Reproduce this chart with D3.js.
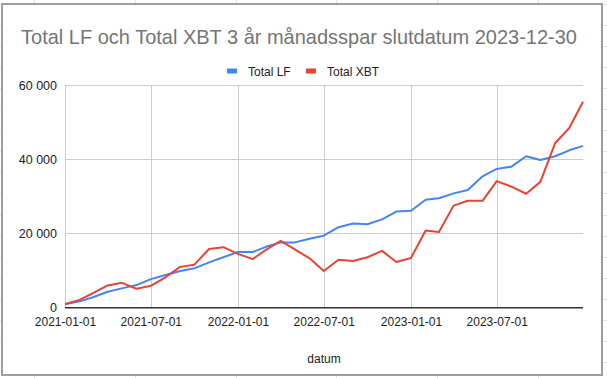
<!DOCTYPE html>
<html lang="sv">
<head>
	<meta charset="UTF-8">
	<title>Total LF och Total XBT</title>
	<script src="https://cdn.jsdelivr.net/npm/d3@7"></script>
	<style>
		body { margin: 0; background: #fff; }
		svg { display: block; font-family: "Liberation Sans", Arial, sans-serif; }
	</style>
</head>
<body>
<script type="text/javascript">
	// data, monthly values
	var dates = ['2021-01-01', '2021-02-01', '2021-03-01', '2021-04-01', '2021-05-01', '2021-06-01',
		'2021-07-01', '2021-08-01', '2021-09-01', '2021-10-01', '2021-11-01', '2021-12-01',
		'2022-01-01', '2022-02-01', '2022-03-01', '2022-04-01', '2022-05-01', '2022-06-01',
		'2022-07-01', '2022-08-01', '2022-09-01', '2022-10-01', '2022-11-01', '2022-12-01',
		'2023-01-01', '2023-02-01', '2023-03-01', '2023-04-01', '2023-05-01', '2023-06-01',
		'2023-07-01', '2023-08-01', '2023-09-01', '2023-10-01', '2023-11-01', '2023-12-01',
		'2023-12-30'];
	var totalLF = [900, 1700, 2800, 4300, 5200, 6100, 7700, 8800, 9900, 10600, 12200, 13600,
		15000, 15000, 16400, 17600, 17600, 18600, 19400, 21700, 22700, 22500, 23800, 25900,
		26100, 29100, 29500, 30800, 31700, 35400, 37400, 38000, 40800, 39800, 40800, 42400, 43600];
	var totalXBT = [1000, 2100, 3900, 6000, 6700, 5100, 5900, 8200, 11000, 11600, 15800, 16300,
		14500, 13100, 15600, 18000, 15700, 13300, 9900, 12900, 12600, 13600, 15300, 12300,
		13400, 20800, 20400, 27500, 28800, 28800, 34100, 32600, 30700, 33900, 44300, 48400, 55500];
	var seriesNames = ['Total LF', 'Total XBT'];
	var yTicks = [0, 20000, 40000, 60000];
	var xTicks = ['2021-01-01', '2021-07-01', '2022-01-01', '2022-07-01', '2023-01-01', '2023-07-01'];

	var W = 607, H = 378;
	var plot = {left: 65, right: 583, top: 85, bottom: 307.7};
	var colors = ['#4285f4', '#ea4335'];

	var parse = d3.timeParse('%Y-%m-%d');
	var fmt = d3.formatLocale({decimal: ',', thousands: '\u00a0', grouping: [3], currency: ['', ' kr']}).format(',d');

	var svg = d3.select('body').append('svg')
		.attr('width', W)
		.attr('height', H);

	// spreadsheet cell grid behind the chart
	var bg = svg.append('g').attr('stroke', '#e2e2e2').attr('stroke-width', 1);
	d3.range(34, W, 100.8).forEach(function (x) {
		bg.append('line').attr('x1', Math.round(x) + 0.5).attr('x2', Math.round(x) + 0.5).attr('y1', 0).attr('y2', H);
	});
	d3.range(4, H, 21.05).forEach(function (y) {
		bg.append('line').attr('x1', 0).attr('x2', W).attr('y1', Math.round(y) + 0.5).attr('y2', Math.round(y) + 0.5);
	});

	svg.append('rect')
		.attr('x', 2).attr('y', 4)
		.attr('width', 600).attr('height', 371)
		.attr('fill', '#fff')
		.attr('stroke', '#9e9e9e')
		.attr('stroke-width', 2);

	var x = d3.scaleTime()
		.domain([parse(dates[0]), parse(dates[dates.length - 1])])
		.range([plot.left, plot.right]);
	var y = d3.scaleLinear()
		.domain([0, 60000])
		.range([plot.bottom, plot.top]);

	// gridlines
	svg.append('g')
		.selectAll('line')
		.data(yTicks.filter(function (d) { return d > 0; }))
		.enter().append('line')
		.attr('x1', plot.left).attr('x2', plot.right)
		.attr('y1', function (d) { return Math.round(y(d)) + 0.5; })
		.attr('y2', function (d) { return Math.round(y(d)) + 0.5; })
		.attr('stroke', '#cccccc');
	svg.append('g')
		.selectAll('line')
		.data(xTicks)
		.enter().append('line')
		.attr('x1', function (d) { return Math.round(x(parse(d))) + 0.5; })
		.attr('x2', function (d) { return Math.round(x(parse(d))) + 0.5; })
		.attr('y1', plot.top).attr('y2', plot.bottom)
		.attr('stroke', '#cccccc');

	// y axis labels
	var yAxis = svg.append('g')
		.attr('transform', 'translate(' + (plot.left - 8) + ',0)')
		.call(d3.axisLeft(y).tickValues(yTicks).tickSize(0).tickPadding(0).tickFormat(fmt));
	yAxis.select('.domain').remove();
	yAxis.selectAll('text').attr('font-size', 12.5).attr('fill', '#222').attr('font-family', null);

	// x axis labels
	var xAxis = svg.append('g')
		.attr('transform', 'translate(0,' + (plot.bottom + 10) + ')')
		.call(d3.axisBottom(x).tickValues(xTicks.map(parse)).tickSize(0).tickPadding(0)
			.tickFormat(d3.timeFormat('%Y-%m-%d')));
	xAxis.select('.domain').remove();
	xAxis.selectAll('text').attr('font-size', 12).attr('fill', '#222').attr('font-family', null);

	var line = d3.line()
		.x(function (d) { return x(d.date); })
		.y(function (d) { return y(d.value); });

	[totalLF, totalXBT].forEach(function (values, i) {
		var pts = values.map(function (v, j) { return {date: parse(dates[j]), value: v}; });
		svg.append('path')
			.datum(pts)
			.attr('d', line)
			.attr('fill', 'none')
			.attr('stroke', colors[i])
			.attr('stroke-width', 2)
			.attr('stroke-linejoin', 'round');
	});

	// baseline
	svg.append('line')
		.attr('x1', plot.left).attr('x2', plot.right)
		.attr('y1', y(0)).attr('y2', y(0))
		.attr('stroke', '#333')
		.attr('stroke-width', 1.5);

	// title, sized to the width it has in the reference
	var title = svg.append('text')
		.attr('x', 299).attr('y', 44)
		.attr('text-anchor', 'middle')
		.attr('font-size', 22)
		.attr('fill', '#757575')
		.text('Total LF och Total XBT 3 år månadsspar slutdatum 2023-12-30');
	var tw = title.node().getComputedTextLength();
	title.attr('font-size', 22 * 556 / tw);

	// legend
	var legendX = [227, 306];
	var legend = svg.append('g')
		.selectAll('g')
		.data(seriesNames)
		.enter().append('g')
		.attr('transform', function (d, i) { return 'translate(' + legendX[i] + ',71)'; });
	legend.append('rect')
		.attr('x', 0).attr('y', -2.5)
		.attr('width', 10).attr('height', 5)
		.attr('fill', function (d, i) { return colors[i]; });
	legend.append('text')
		.attr('x', 21).attr('y', 4.5)
		.attr('font-size', 12)
		.attr('fill', '#222')
		.text(function (d) { return d; });

	// x axis title
	svg.append('text')
		.attr('x', (plot.left + plot.right) / 2).attr('y', 363)
		.attr('text-anchor', 'middle')
		.attr('font-size', 12)
		.attr('fill', '#222')
		.text('datum');
</script>
</body>
</html>
